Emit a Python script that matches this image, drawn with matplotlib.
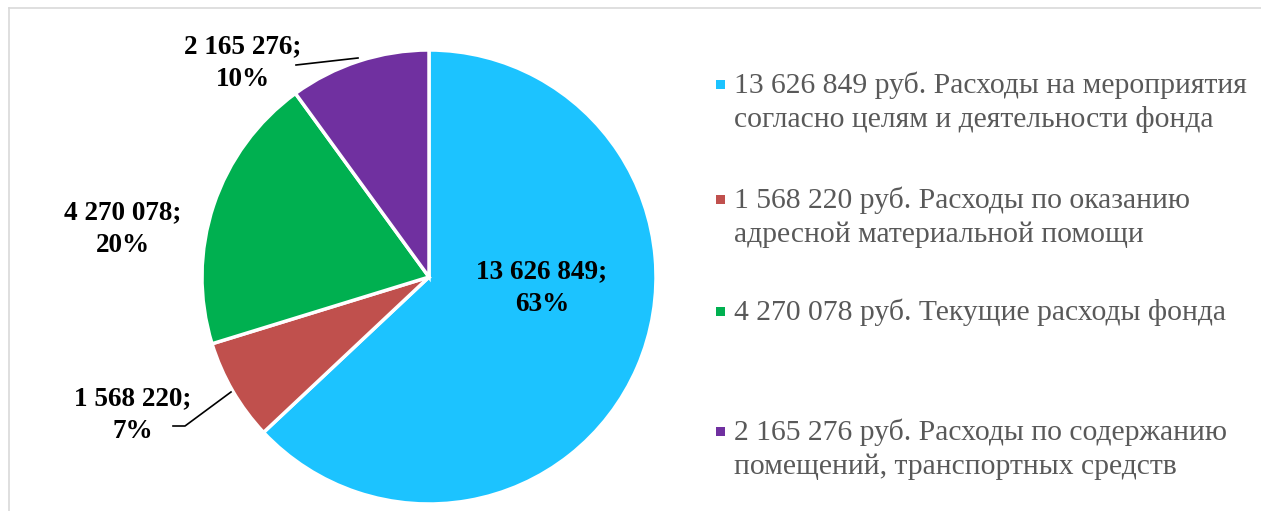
import matplotlib
matplotlib.use("Agg")
import matplotlib.pyplot as plt
from matplotlib.lines import Line2D
from matplotlib.patches import Rectangle

# data
values = [13626849, 1568220, 4270078, 2165276]
descriptions = [
    "Расходы на мероприятия\nсогласно целям и деятельности фонда",
    "Расходы по оказанию\nадресной материальной помощи",
    "Текущие расходы фонда",
    "Расходы по содержанию\nпомещений, транспортных средств",
]
colors = ["#1CC3FF", "#C0504D", "#00B050", "#7030A0"]

W, H = 1261, 511
plt.rcParams['font.family'] = ['Liberation Serif', 'DejaVu Serif']

def fmt(v):
    return "{:,}".format(v).replace(",", " ")

fig = plt.figure(figsize=(W / 100, H / 100), dpi=100)

# pie centre and radius in pixels
cx, cy, r = 429, 277, 227
ax = fig.add_axes([(cx - r) / W, (H - cy - r) / H, 2 * r / W, 2 * r / H])
wedges, _ = ax.pie(values, colors=colors, startangle=90, counterclock=False, radius=1,
                   wedgeprops=dict(edgecolor="white", linewidth=2.5))
ax.set_xlim(-1, 1)
ax.set_ylim(-1, 1)
ax.axis("off")

total = sum(values)
pct = [round(100.0 * v / total) for v in values]
labels = [fmt(v) + ";\n" + str(p) + "%" for v, p in zip(values, pct)]

def to_data(px, py):
    return ((px - cx) / r, (cy - py) / r)

# label positions (pixels) and leader paths
label_pos = [(542, 288), (133, 415), (123, 229), (243, 63)]
for i, lab in enumerate(labels):
    x, y = to_data(*label_pos[i])
    ax.text(x, y, lab, ha="center", va="center", fontsize=19.6, fontweight="bold",
            color="black", linespacing=1.38, clip_on=False)

leaders = {
    1: [(231, 392), (185, 426), (173, 426)],
    3: [(358, 58), (296, 65)],
}
for k, pts in leaders.items():
    d = [to_data(px, py) for px, py in pts]
    ax.plot([p[0] for p in d], [p[1] for p in d], color="black", lw=1.2, clip_on=False)

# legend drawn by hand
legend_base = [93, 208, 320, 440]
line_step = 34
for i, desc in enumerate(descriptions):
    text = fmt(values[i]) + " руб. " + desc
    lines = text.split("\n")
    yb = legend_base[i]
    fig.patches.append(Rectangle((716 / W, 1 - 89 / H + (93 - yb) / H), 9 / W, 9 / H,
                                 transform=fig.transFigure, facecolor=colors[i],
                                 edgecolor="none"))
    for j, ln in enumerate(lines):
        fig.text(734 / W, 1 - (yb + j * line_step) / H, ln, fontsize=21.3,
                 color="#595959", ha="left", va="baseline")

# chart frame (top and left edges visible)
fig.lines.append(Line2D([9 / W, 1], [1 - 8 / H, 1 - 8 / H], transform=fig.transFigure,
                        color="#D9D9D9", lw=1.2))
fig.lines.append(Line2D([9 / W, 9 / W], [0, 1 - 8 / H], transform=fig.transFigure,
                        color="#D9D9D9", lw=1.2))

fig.savefig("out.png", dpi=100)
